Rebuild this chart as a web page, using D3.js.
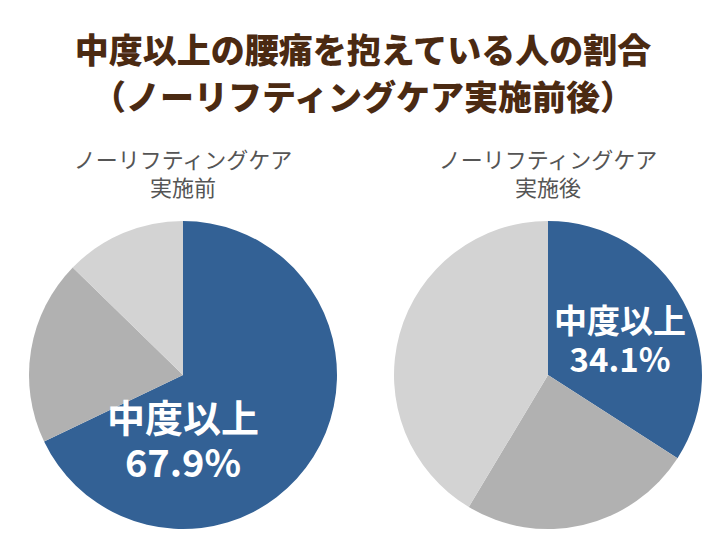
<!DOCTYPE html>
<html><head><meta charset="utf-8">
<script src="https://cdn.jsdelivr.net/npm/d3@7"></script>
<style>body{margin:0;background:#fff}</style>
</head><body><div id="chart"></div>
<script>
const titleLines = ["中度以上の腰痛を抱えている人の割合", "（ノーリフティングケア実施前後）"];
const pieNames = [["ノーリフティングケア", "実施前"], ["ノーリフティングケア", "実施後"]];
const categories = ["中度以上", "その他A", "その他B"];
const beforeValues = [67.9, 19.4, 12.7];
const afterValues = [34.1, 24.5, 41.4];

const width = 726, height = 545;
const font = "'Noto Sans CJK JP', sans-serif";
const svg = d3.select("#chart").append("svg").attr("width", width).attr("height", height);

const color = d3.scaleOrdinal().domain(categories).range(["#336195", "#b1b1b1", "#d3d3d3"]);

svg.selectAll(".title").data(titleLines).join("text")
  .attr("x", width / 2).attr("y", (d, i) => 63 + i * 47)
  .attr("text-anchor", "middle").attr("font-family", font).attr("font-weight", 900)
  .attr("font-size", 34).attr("fill", "#4b2a12").text(d => d);

const pies = [
  {cx: 183, cy: 375, values: beforeValues, names: pieNames[0], lx: 183, ly: 432, fs: 38},
  {cx: 548, cy: 375, values: afterValues, names: pieNames[1], lx: 620, ly: 333, fs: 33}
];
const r = 154;
const pie = d3.pie().sort(null).value(d => d);
const arc = d3.arc().innerRadius(0).outerRadius(r);

pies.forEach(p => {
  const g = svg.append("g").attr("transform", `translate(${p.cx},${p.cy})`);
  g.selectAll("path").data(pie(p.values)).join("path")
    .attr("d", arc).attr("fill", (d, i) => color(categories[i]));
  svg.selectAll(null).data(p.names).join("text")
    .attr("x", p.cx).attr("y", (d, i) => 168 + i * 28)
    .attr("text-anchor", "middle").attr("font-family", font).attr("font-size", 22)
    .attr("fill", "#555").text(d => d);
  svg.append("text").attr("x", p.lx).attr("y", p.ly)
    .attr("text-anchor", "middle").attr("font-family", font).attr("font-weight", 700)
    .attr("font-size", p.fs).attr("fill", "#fff").text(categories[0]);
  svg.append("text").attr("x", p.lx).attr("y", p.ly + p.fs * 1.18)
    .attr("text-anchor", "middle").attr("font-family", font).attr("font-weight", 700)
    .attr("font-size", p.fs).attr("fill", "#fff").text(p.values[0] + "%");
});
</script></body></html>
